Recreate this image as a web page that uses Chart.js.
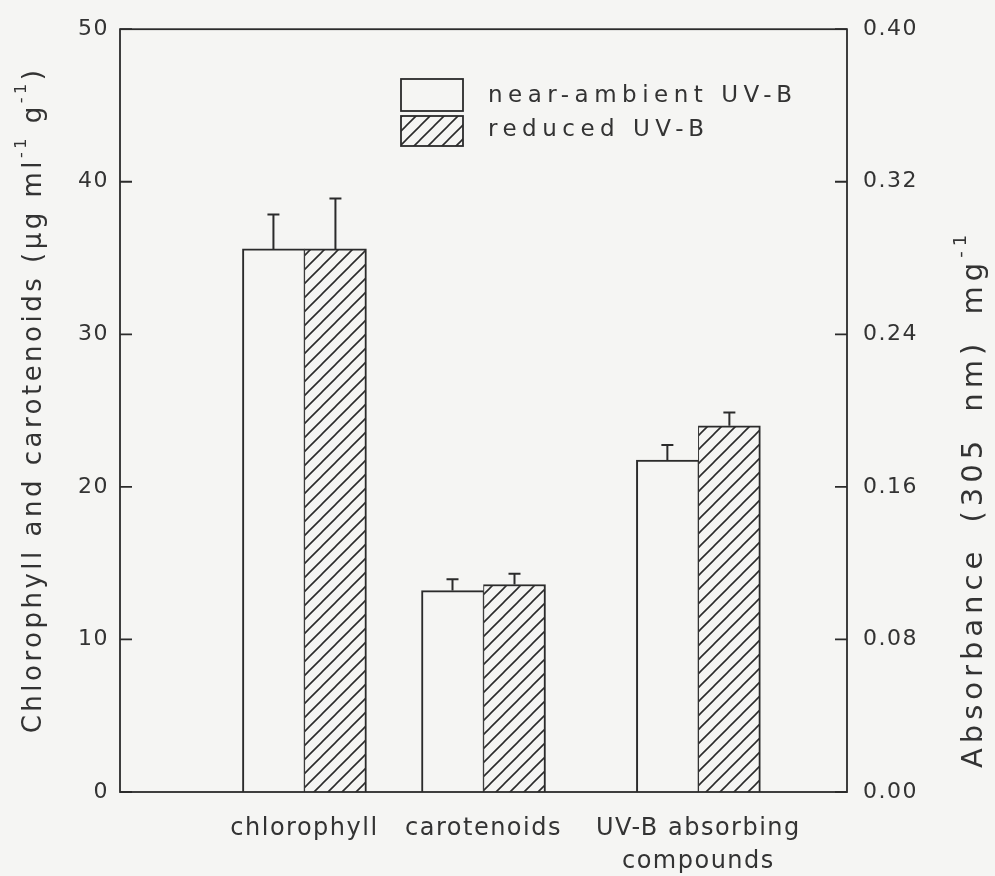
<!DOCTYPE html>
<html>
<head>
<meta charset="utf-8">
<script src="https://cdn.jsdelivr.net/npm/chart.js@4/dist/chart.umd.min.js"></script>
<style>
  html, body { margin: 0; padding: 0; background: #f5f5f3; }
  canvas { display: block; }
</style>
</head>
<body>
<canvas id="chart" width="995" height="876"></canvas>
<script>
// Categories along the x axis and where each group sits on it
const categories = ['chlorophyll', 'carotenoids', ['UV-B absorbing', 'compounds']];
const categoryPos = [5, 10, 16];
const seriesNames = ['near-ambient UV-B', 'reduced UV-B'];

// Chlorophyll and carotenoids (µg ml-1 g-1), left axis
const nearPigment = [35.6, 13.2];
const nearPigmentErr = [2.25, 0.75];
const reducedPigment = [35.6, 13.6];
const reducedPigmentErr = [3.3, 0.7];

// UV-B absorbing compounds, absorbance (305 nm) mg-1, right axis
const nearAbsorb = [0.174];
const nearAbsorbErr = [0.008];
const reducedAbsorb = [0.192];
const reducedAbsorbErr = [0.007];

// Axis ticks
const leftTicks = [0, 10, 20, 30, 40, 50];
const rightTicks = [0, 0.08, 0.16, 0.24, 0.32, 0.40];

const INK = '#2b2b2b';
const TEXT = '#333';
const PAPER = '#f5f5f3';
const FONT = '"DejaVu Sans", sans-serif';
const SPACING = '1.5px';

const canvas = document.getElementById('chart');
const ctx0 = canvas.getContext('2d');

// Diagonal hatch used for the reduced UV-B bars
function makeHatch() {
  const s = 14;
  const tile = document.createElement('canvas');
  tile.width = s; tile.height = s;
  const g = tile.getContext('2d');
  g.fillStyle = PAPER;
  g.fillRect(0, 0, s, s);
  g.strokeStyle = INK;
  g.lineWidth = 1.6;
  g.beginPath();
  g.moveTo(0, s); g.lineTo(s, 0);
  g.moveTo(-s / 2, s / 2); g.lineTo(s / 2, -s / 2);
  g.moveTo(s / 2, s * 1.5); g.lineTo(s * 1.5, s / 2);
  g.stroke();
  return ctx0.createPattern(tile, 'repeat');
}
const hatch = makeHatch();

function points(values, first) {
  return values.map((v, i) => ({ x: categoryPos[first + i], y: v }));
}

const nearBorder = { top: 2, left: 2, right: 1, bottom: 0 };
const reducedBorder = { top: 2, left: 1, right: 2, bottom: 0 };

const datasets = [
  { label: seriesNames[0], data: points(nearPigment, 0), errors: nearPigmentErr,
    yAxisID: 'y', stack: 'near', backgroundColor: PAPER, borderColor: INK, borderWidth: nearBorder },
  { label: seriesNames[1], data: points(reducedPigment, 0), errors: reducedPigmentErr,
    yAxisID: 'y', stack: 'reduced', backgroundColor: hatch, borderColor: INK, borderWidth: reducedBorder },
  { label: seriesNames[0], data: points(nearAbsorb, 2), errors: nearAbsorbErr,
    yAxisID: 'y2', stack: 'near', backgroundColor: PAPER, borderColor: INK, borderWidth: nearBorder },
  { label: seriesNames[1], data: points(reducedAbsorb, 2), errors: reducedAbsorbErr,
    yAxisID: 'y2', stack: 'reduced', backgroundColor: hatch, borderColor: INK, borderWidth: reducedBorder }
];

// Page background and letter spacing for the axis text
const paper = {
  id: 'paper',
  beforeLayout(chart) { chart.ctx.letterSpacing = SPACING; },
  beforeDraw(chart) {
    const c = chart.ctx;
    c.save();
    c.fillStyle = PAPER;
    c.fillRect(0, 0, chart.width, chart.height);
    c.restore();
    c.letterSpacing = SPACING;
  }
};

// Error bars: a stem from the bar top and a short cap
const errorBars = {
  id: 'errorBars',
  afterDatasetsDraw(chart) {
    const c = chart.ctx;
    c.save();
    c.strokeStyle = INK;
    c.lineWidth = 2;
    chart.data.datasets.forEach((ds, di) => {
      const meta = chart.getDatasetMeta(di);
      const scale = chart.scales[ds.yAxisID];
      ds.errors.forEach((e, i) => {
        const bar = meta.data[i];
        const yTop = scale.getPixelForValue(ds.data[i].y + e);
        c.beginPath();
        c.moveTo(bar.x, bar.y);
        c.lineTo(bar.x, yTop);
        c.moveTo(bar.x - 6, yTop);
        c.lineTo(bar.x + 6, yTop);
        c.stroke();
      });
    });
    c.restore();
  }
};

// Box frame with inward tick marks on both value axes
const frame = {
  id: 'frame',
  afterDraw(chart) {
    const c = chart.ctx;
    const { left, right, top, bottom } = chart.chartArea;
    c.save();
    c.strokeStyle = INK;
    c.lineWidth = 1.8;
    c.strokeRect(left, top, right - left, bottom - top);
    c.beginPath();
    chart.scales.y.ticks.forEach(t => {
      const y = chart.scales.y.getPixelForValue(t.value);
      c.moveTo(left, y); c.lineTo(left + 12, y);
    });
    chart.scales.y2.ticks.forEach(t => {
      const y = chart.scales.y2.getPixelForValue(t.value);
      c.moveTo(right, y); c.lineTo(right - 12, y);
    });
    c.stroke();
    c.restore();
  }
};

// Legend with an open box and a hatched box
const boxLegend = {
  id: 'boxLegend',
  afterDraw(chart, args, opts) {
    const c = chart.ctx;
    c.save();
    c.letterSpacing = '5.5px';
    c.strokeStyle = INK;
    c.lineWidth = 1.8;
    c.fillStyle = PAPER;
    c.fillRect(opts.x, opts.y1, 62, 32);
    c.strokeRect(opts.x, opts.y1, 62, 32);
    c.fillStyle = hatch;
    c.fillRect(opts.x, opts.y2, 62, 30);
    c.strokeRect(opts.x, opts.y2, 62, 30);
    c.fillStyle = TEXT;
    c.font = '23px ' + FONT;
    c.textBaseline = 'middle';
    c.fillText(seriesNames[0], opts.x + 87, opts.y1 + 17);
    c.fillText(seriesNames[1], opts.x + 87, opts.y2 + 14);
    c.restore();
  }
};

// Rotated axis titles with superscript exponents
function drawRuns(c, runs, cx, cy, size) {
  const main = size + 'px ' + FONT;
  const sup = Math.round(size * 0.62) + 'px ' + FONT;
  let total = 0;
  runs.forEach(r => { c.font = r.sup ? sup : main; r.w = c.measureText(r.text).width; total += r.w; });
  c.save();
  c.translate(cx, cy);
  c.rotate(-Math.PI / 2);
  let x = -total / 2;
  runs.forEach(r => {
    c.font = r.sup ? sup : main;
    c.fillText(r.text, x, r.sup ? -size * 0.45 : 0);
    x += r.w;
  });
  c.restore();
}
const axisTitles = {
  id: 'axisTitles',
  afterDraw(chart) {
    const c = chart.ctx;
    c.save();
    c.fillStyle = TEXT;
    c.textBaseline = 'middle';
    c.letterSpacing = '3.5px';
    c.wordSpacing = '0px';
    drawRuns(c, [
      { text: 'Chlorophyll and carotenoids (µg ml' }, { text: '-1', sup: true },
      { text: ' g' }, { text: '-1', sup: true }, { text: ')' }
    ], 34, 400, 26);
    c.letterSpacing = '5px';
    c.wordSpacing = '10px';
    drawRuns(c, [
      { text: 'Absorbance (305 nm) mg' }, { text: '-1', sup: true }
    ], 974, 499, 29);
    c.restore();
  }
};

Chart.defaults.color = TEXT;
Chart.defaults.font.family = FONT;

new Chart(canvas, {
  type: 'bar',
  data: { datasets },
  plugins: [paper, errorBars, frame, boxLegend, axisTitles],
  options: {
    responsive: false,
    animation: false,
    barThickness: 62,
    layout: { padding: { top: 22, left: 0, right: 0, bottom: 0 } },
    plugins: {
      legend: { display: false },
      tooltip: { enabled: false },
      boxLegend: { x: 401, y1: 79, y2: 116 }
    },
    scales: {
      x: {
        type: 'linear',
        offset: false,
        min: -0.15,
        max: 20.15,
        grid: { display: false, drawTicks: false },
        border: { display: false },
        afterBuildTicks(scale) { scale.ticks = categoryPos.map(v => ({ value: v })); },
        afterFit(scale) { scale.height = 84; },
        ticks: {
          autoSkip: false,
          maxRotation: 0,
          padding: 20,
          font: { size: 24, lineHeight: 1.375 },
          callback: (v) => categories[categoryPos.indexOf(v)]
        }
      },
      y: {
        position: 'left',
        min: 0,
        max: 50,
        stacked: false,
        grid: { display: false, drawTicks: false },
        border: { display: false },
        afterBuildTicks(scale) { scale.ticks = leftTicks.map(v => ({ value: v })); },
        afterFit(scale) { scale.width = 120; },
        ticks: { padding: 11, font: { size: 22 } }
      },
      y2: {
        position: 'right',
        min: 0,
        max: 0.4,
        stacked: false,
        grid: { display: false, drawTicks: false },
        border: { display: false },
        afterBuildTicks(scale) { scale.ticks = rightTicks.map(v => ({ value: v })); },
        afterFit(scale) { scale.width = 148; },
        ticks: { padding: 16, font: { size: 22 }, callback: (v) => v.toFixed(2) }
      }
    }
  }
});
</script>
</body>
</html>
